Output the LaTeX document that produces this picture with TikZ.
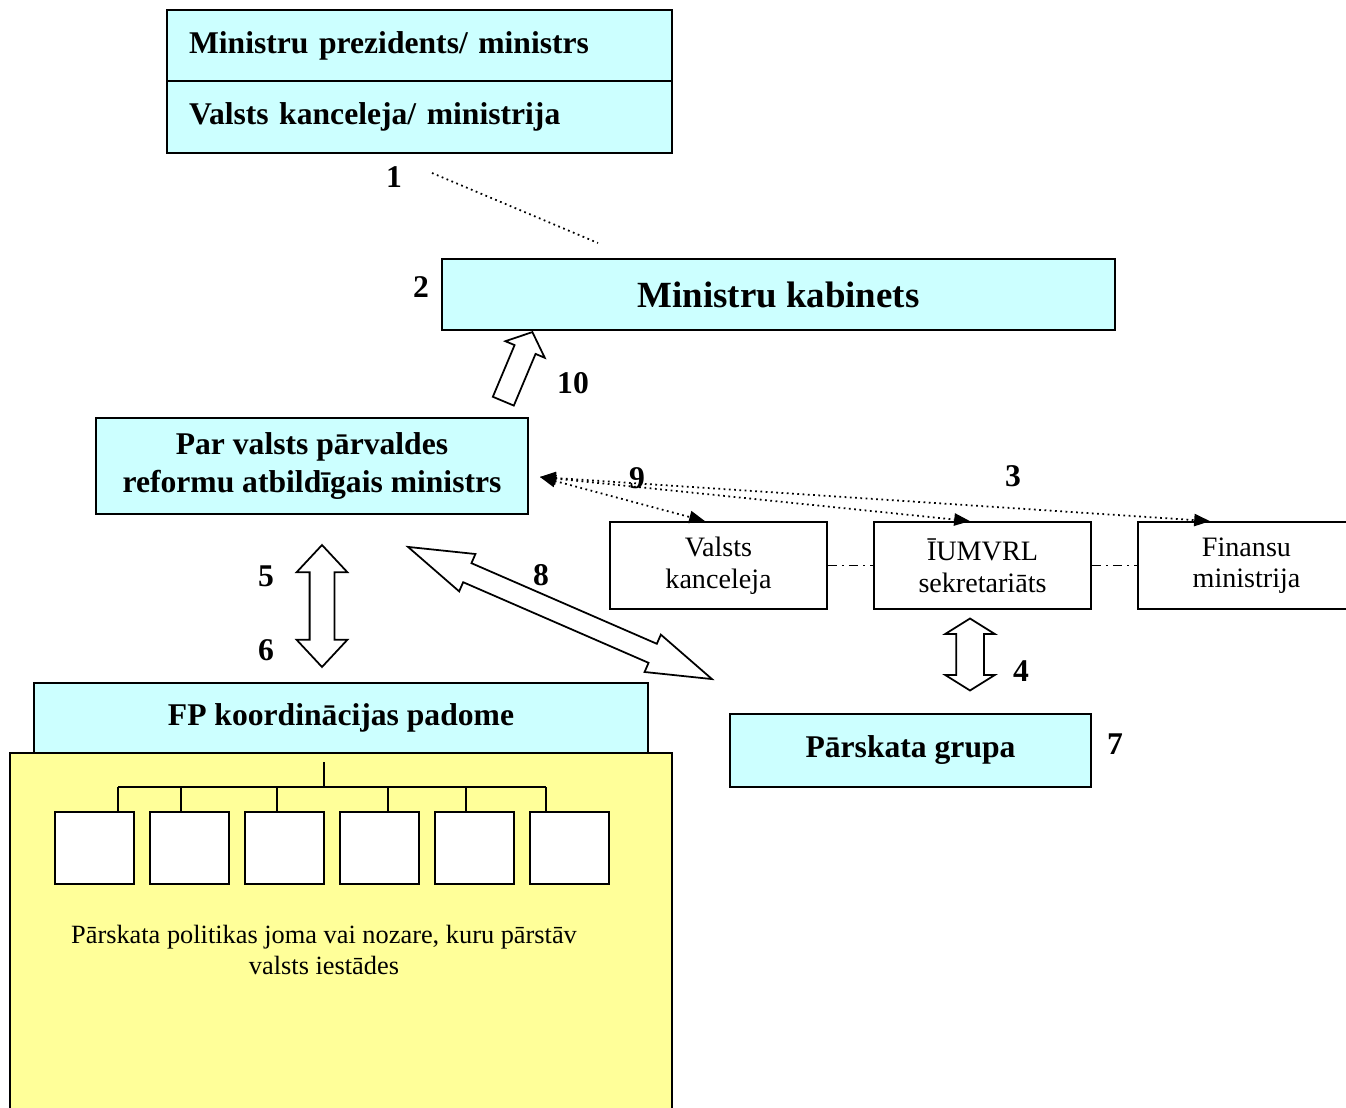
\documentclass[tikz,border=0pt]{standalone}
\usepackage{fontspec}
\setmainfont{Liberation Serif}
\usetikzlibrary{shapes.arrows,arrows.meta,calc}
\definecolor{lightcyan}{HTML}{CCFFFF}
\definecolor{paleyellow}{HTML}{FFFF99}
\begin{document}
\begin{tikzpicture}
	[	x=0.02cm,y=-0.02cm,
	cbox/.style={rectangle,draw=black,fill=lightcyan,line width=1pt,inner sep=0pt,align=center,font=\fontsize{18}{21.5}\selectfont\bfseries},
	wbox/.style={rectangle,draw=black,fill=white,line width=1pt,inner sep=0pt,align=center,font=\fontsize{16}{18}\selectfont,minimum width=4.34cm,minimum height=1.74cm},
	subbox/.style={rectangle,draw=black,fill=white,line width=1pt,minimum width=1.58cm,minimum height=1.44cm},
	num/.style={font=\fontsize{18}{21}\selectfont\bfseries,inner sep=0pt},
	blockarrow/.style={draw=black,fill=white,line width=1pt,inner xsep=0pt},
	dotarr/.style={dotted,line width=1pt,{Triangle[length=9pt,width=7pt]}-{Triangle[length=9pt,width=7pt]}},
	dashdot/.style={line width=0.8pt,dash pattern=on 5pt off 3pt on 1pt off 3pt}
	]
	\clip (0,0) rectangle (1346,1108);
	\fill[white] (0,0) rectangle (1346,1108);

	% top box
	\node[cbox,minimum width=10.1cm,minimum height=1.42cm,text width=9.22cm,align=left,inner xsep=0.44cm] (pm) at (419.5,45.5) {Ministru prezidents/ ministrs};
	\node[cbox,minimum width=10.1cm,minimum height=1.44cm,text width=9.22cm,align=left,inner xsep=0.44cm] (vkm) at (419.5,117) {Valsts kanceleja/ ministrija};

	\node[cbox,minimum width=13.46cm,minimum height=1.42cm,font=\fontsize{21}{25}\selectfont\bfseries] (mk) at (778.5,294.5) {Ministru kabinets};
	\node[cbox,minimum width=8.64cm,minimum height=1.92cm] (pv) at (312,466) {Par valsts pārvaldes\\reformu atbildīgais ministrs};

	\node[wbox] (vkanc) at (718.5,565.5) {Valsts\\kanceleja};
	\node[wbox] (ium) at (982.5,565.5) {ĪUMVRL\\sekretariāts};
	\node[wbox] (fin) at (1246.5,565.5) {Finansu\\ministrija};

	\node[cbox,minimum width=7.22cm,minimum height=1.46cm] (pg) at (910.5,750.5) {Pārskata grupa};

	% council and policy areas
	\node[cbox,minimum width=12.28cm,minimum height=1.4cm] (fp) at (341,718) {FP koordinācijas padome};
	\draw[line width=1pt,fill=paleyellow] (10,753) rectangle (672,1130);
	\node[font=\fontsize{15}{17.6}\selectfont,align=center] (joma) at (324,950) {Pārskata politikas joma vai nozare, kuru pārstāv\\valsts iestādes};

	\coordinate (trunk) at (324,762);
	\coordinate (bar) at (324,787);
	\draw[line width=1pt] (trunk) -- (bar);
	\foreach \i/\cx/\lx in {1/94.5/118,2/189.5/181,3/284.5/277,4/379.5/388,5/474.5/466,6/569.5/546}{
		\node[subbox] (sb\i) at (\cx,848) {};
		\draw[line width=1pt] (\lx,787) -- (sb\i.north -| \lx,0);
	}
	\draw[line width=1pt] (118,787) -- (546,787);

	% connectors
	\coordinate (d1a) at (432,173);
	\coordinate (d1b) at (598,243);
	\draw[dotted,line width=1pt] (d1a) -- (d1b);

	\coordinate (pvtip) at (540,477);
	\draw[dotarr] (pvtip) -- ($(vkanc.north)+(-13.5,0)$);
	\draw[dotarr] (pvtip) -- ($(ium.north)+(-12.5,0)$);
	\draw[dotarr] (pvtip) -- ($(fin.north)+(-36.5,0)$);

	\draw[dashdot] (vkanc.east) -- (ium.west);
	\draw[dashdot] (ium.east) -- (fin.west);

	% block arrows
	\node[blockarrow,single arrow,inner ysep=0.21cm,minimum height=1.5cm,single arrow head extend=0.2cm,single arrow tip angle=97,rotate=67.2,anchor=tail] (a10) at (503,402) {};
	\node[blockarrow,double arrow,inner ysep=0.23cm,minimum height=2.44cm,double arrow head extend=0.26cm,double arrow tip angle=86,rotate=90] (a56) at (322,606) {};
	\node[blockarrow,double arrow,inner ysep=0.26cm,minimum height=1.44cm,double arrow head extend=0.22cm,double arrow tip angle=116,rotate=90] (a4) at (970,654.5) {};
	\node[blockarrow,double arrow,inner ysep=0.19cm,minimum height=6.63cm,double arrow head extend=0.2cm,double arrow tip angle=35,rotate=-23.5] (a8) at (560,613) {};

	% numbers
	\node[num] (n1) at (394,177) {1};
	\node[num] (n2) at (421,287) {2};
	\node[num] (n3) at (1013,476) {3};
	\node[num] (n4) at (1021,671) {4};
	\node[num] (n5) at (266,576) {5};
	\node[num] (n6) at (266,650) {6};
	\node[num] (n7) at (1115,744) {7};
	\node[num] (n8) at (541,575) {8};
	\node[num] (n9) at (637,478) {9};
	\node[num] (n10) at (573,383) {10};
\end{tikzpicture}
\end{document}
